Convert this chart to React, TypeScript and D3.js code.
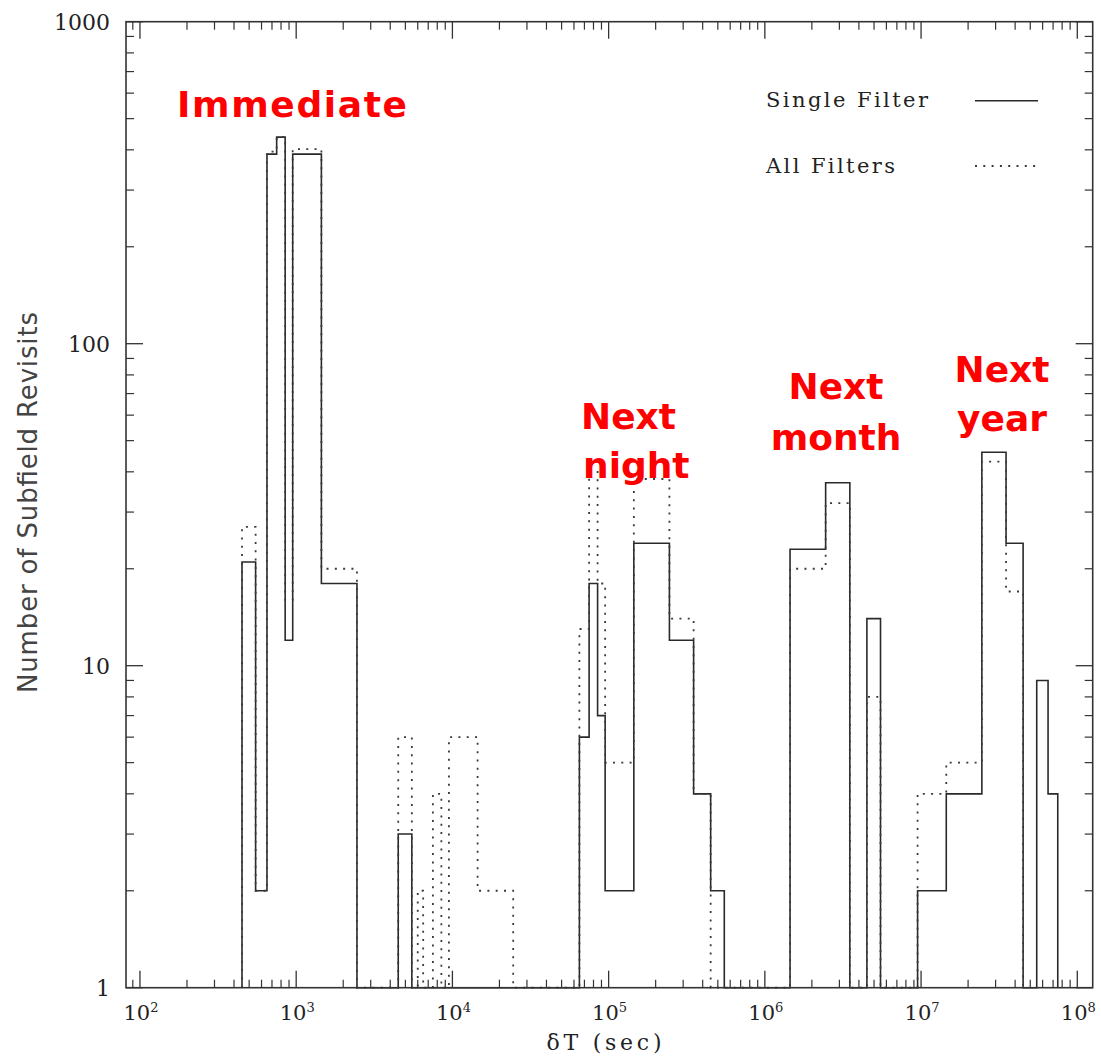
import React from 'react';
import * as d3 from 'd3';

// ---- data (bin edges in seconds, counts per bin) ----
const singleEdges = [450, 550, 650, 750, 850, 950, 1450, 2450, 4500, 5500,
  65000, 75000, 85000, 95000, 145000, 245000, 350000, 450000, 550000,
  1450000, 2450000, 3500000, 4500000, 5500000,
  9500000, 14500000, 24500000, 35000000, 45000000, 55000000, 65000000, 75000000];
const singleCounts = [21, 2, 388, 438, 12, 388, 18, 0, 3, 0,
  6, 18, 7, 2, 24, 12, 4, 2, 0,
  23, 37, 0, 14, 0,
  2, 4, 46, 24, 0, 9, 4];

const allEdges = [450, 550, 650, 750, 850, 950, 1450, 2450, 4500, 5500, 6000, 6500,
  7500, 8500, 9500, 14500, 24500,
  65000, 75000, 85000, 95000, 145000, 245000, 350000, 450000,
  1450000, 2450000, 3500000, 4500000, 5500000,
  9500000, 14500000, 24500000, 35000000, 45000000];
const allCounts = [27, 2, 395, 438, 16, 402, 20, 0, 6, 0, 2, 0,
  4, 0, 6, 2, 0,
  13, 40, 18, 5, 38, 14, 4, 0,
  20, 32, 0, 8, 0,
  4, 5, 43, 17];

const xDomain = [81.4, 1.255e8];
const yDomain = [1, 1000];
const xTickExponents = [2, 3, 4, 5, 6, 7, 8];
const yTickValues = [1, 10, 100, 1000];
const legendLabels = ['Single Filter', 'All Filters'];
const xTitle = 'δT (sec)';
const yTitle = 'Number of Subfield Revisits';

const W = 1101;
const H = 1058;
const L = 126, R = 1092.7, T = 21.7, B = 987.7;

const x = d3.scaleLog().domain(xDomain).range([L, R]);
const y = d3.scaleLog().domain(yDomain).range([B, T]);

function stepPoints(edges: number[], counts: number[]) {
  const pts: [number, number][] = [[edges[0], 1]];
  counts.forEach((c, i) => {
    const v = Math.max(1, c);
    pts.push([edges[i], v], [edges[i + 1], v]);
  });
  pts.push([edges[edges.length - 1], 1]);
  return pts;
}

const line = d3.line<[number, number]>().x(d => x(d[0])).y(d => y(d[1]));

const xMinor: number[] = [];
for (let k = 1; k <= 8; k++) for (let m = 2; m <= 9; m++) {
  const v = m * Math.pow(10, k);
  if (v > xDomain[0] && v < xDomain[1]) xMinor.push(v);
}
const yMinor: number[] = [];
for (let k = 0; k <= 2; k++) for (let m = 2; m <= 9; m++) yMinor.push(m * Math.pow(10, k));

const AX = '#333';
const SERIF = 'DejaVu Serif, serif';
const BOLD = 'DejaVu Sans, Verdana, sans-serif';

export default function App() {
  const MAJ = 17, MIN = 8;
  return (
    <svg width={W} height={H} style={{ position: 'absolute', left: 0, top: 0, background: '#fff' }}>
      <rect x={0} y={0} width={W} height={H} fill="#fff" />
      {/* histograms */}
      <path d={line(stepPoints(singleEdges, singleCounts)) || ''} fill="none" stroke="#2a2a2a" strokeWidth={1.6} />
      <path d={line(stepPoints(allEdges, allCounts)) || ''} fill="none" stroke="#3a3a3a" strokeWidth={1.8} strokeDasharray="2,6.3" />

      {/* frame */}
      <rect x={L} y={T} width={R - L} height={B - T} fill="none" stroke={AX} strokeWidth={1.6} />

      {/* x ticks */}
      {xTickExponents.map(e => {
        const px = x(Math.pow(10, e));
        return (
          <g key={'xM' + e}>
            <line x1={px} x2={px} y1={B} y2={B - MAJ} stroke={AX} strokeWidth={1.3} />
            <line x1={px} x2={px} y1={T} y2={T + MAJ} stroke={AX} strokeWidth={1.3} />
            <text x={px + 1} y={1020} textAnchor="middle" fontFamily={SERIF} fontSize={21} fill="#222">
              10<tspan dy={-8} fontSize={13}>{e}</tspan>
            </text>
          </g>
        );
      })}
      {xMinor.map(v => {
        const px = x(v);
        return (
          <g key={'xm' + v}>
            <line x1={px} x2={px} y1={B} y2={B - MIN} stroke={AX} strokeWidth={1.2} />
            <line x1={px} x2={px} y1={T} y2={T + MIN} stroke={AX} strokeWidth={1.2} />
          </g>
        );
      })}

      {/* y ticks */}
      {yTickValues.map(v => {
        const py = y(v);
        return (
          <g key={'yM' + v}>
            <line x1={L} x2={L + MAJ} y1={py} y2={py} stroke={AX} strokeWidth={1.3} />
            <line x1={R} x2={R - MAJ} y1={py} y2={py} stroke={AX} strokeWidth={1.3} />
            <text x={110} y={py + 8} textAnchor="end" fontFamily={SERIF} fontSize={22} fill="#222">{String(v)}</text>
          </g>
        );
      })}
      {yMinor.map(v => {
        const py = y(v);
        return (
          <g key={'ym' + v}>
            <line x1={L} x2={L + MIN} y1={py} y2={py} stroke={AX} strokeWidth={1.2} />
            <line x1={R} x2={R - MIN} y1={py} y2={py} stroke={AX} strokeWidth={1.2} />
          </g>
        );
      })}

      {/* axis titles */}
      <text x={604} y={1050} textAnchor="middle" fontFamily={SERIF} fontSize={22} fill="#222" textLength={115}>{xTitle}</text>
      <text transform="translate(37,502.5) rotate(-90)" textAnchor="middle" fontFamily="DejaVu Sans, sans-serif" fontSize={26} fill="#444" textLength={381}>{yTitle}</text>

      {/* legend */}
      <text x={766} y={107} fontFamily={SERIF} fontSize={21} fill="#222" textLength={162}>{legendLabels[0]}</text>
      <line x1={975} x2={1038} y1={100.7} y2={100.7} stroke="#2a2a2a" strokeWidth={1.6} />
      <text x={766} y={173} fontFamily={SERIF} fontSize={21} fill="#222" textLength={129}>{legendLabels[1]}</text>
      <line x1={975} x2={1038} y1={166} y2={166} stroke="#3a3a3a" strokeWidth={1.8} strokeDasharray="2,6.3" />

      {/* annotations */}
      <g fontFamily={BOLD} fontWeight="bold" fontSize={36} fill="#ff0000">
        <text x={177} y={117} textLength={230}>Immediate</text>
        <text x={581} y={429}>Next</text>
        <text x={583} y={478}>night</text>
        <text x={836} y={399} textAnchor="middle">Next</text>
        <text x={836} y={450} textAnchor="middle">month</text>
        <text x={1002} y={382} textAnchor="middle">Next</text>
        <text x={1002} y={431} textAnchor="middle">year</text>
      </g>
    </svg>
  );
}
